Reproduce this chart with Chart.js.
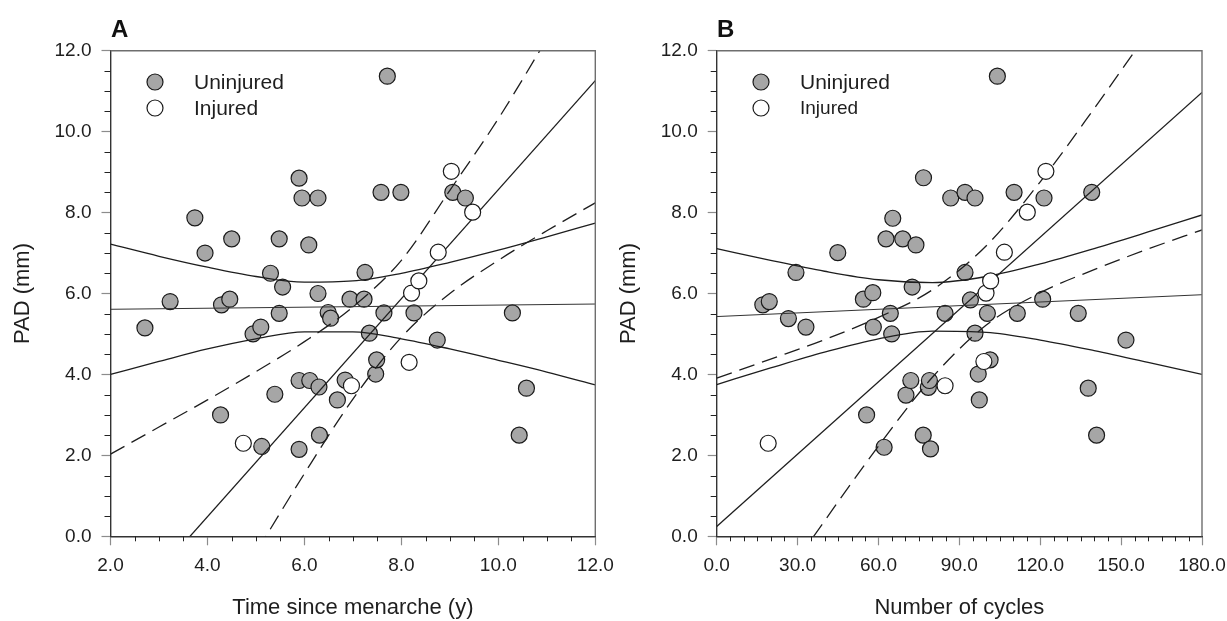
<!DOCTYPE html>
<html>
<head>
<meta charset="utf-8">
<script src="https://cdn.jsdelivr.net/npm/chart.js@4.4.1/dist/chart.umd.min.js"></script>
<style>
  html, body { margin: 0; padding: 0; background: #fff; }
  body { width: 1227px; height: 621px; position: relative; overflow: hidden; }
  canvas { position: absolute; top: 0; }
  #chartA { left: 0; }
  #chartB { left: 606px; }
</style>
</head>
<body>
<canvas id="chartA" width="621" height="621"></canvas>
<canvas id="chartB" width="621" height="621"></canvas>
<script>
// ---- panel A: time since menarche (y) vs PAD (mm)
const aUninjuredTime = [2.71, 3.23, 3.74, 3.95, 4.27, 4.29, 4.46, 4.5, 4.94, 5.1, 5.12, 5.3, 5.39, 5.48, 5.48, 5.55,
  5.89, 5.95, 5.89, 5.89, 6.09, 6.11, 6.28, 6.28, 6.3, 6.31, 6.49, 6.54, 6.68, 6.84, 6.94, 7.23, 7.25, 7.34,
  7.47, 7.49, 7.58, 7.64, 7.71, 7.99, 8.26, 8.74, 9.06, 9.32, 10.29, 10.43, 10.58];
const aUninjuredPad = [5.15, 5.8, 7.87, 7.0, 3.0, 5.72, 5.86, 7.35, 5.0, 5.17, 2.22, 6.5, 3.51, 5.51, 7.35, 6.16,
  8.85, 8.36, 2.15, 3.85, 7.2, 3.85, 8.36, 6.0, 3.69, 2.5, 5.53, 5.39, 3.37, 3.86, 5.86, 5.86, 6.52, 5.02,
  4.01, 4.36, 8.5, 5.52, 11.37, 8.5, 5.52, 4.85, 8.5, 8.36, 5.52, 2.5, 3.66];
const aInjuredTime = [4.74, 6.97, 8.16, 8.21, 8.36, 8.76, 9.03, 9.47];
const aInjuredPad = [2.3, 3.72, 4.3, 6.01, 6.31, 7.02, 9.02, 8.01];

const aFitX = [2, 12];
const aUninjuredFit = [5.61, 5.74];
const aInjuredFit = [-2.21, 11.26];
const aBandX = [2, 3, 4, 5, 6, 7, 8, 9, 10, 11, 12];
const aUninjuredUpper = [7.22, 6.92, 6.65, 6.42, 6.28, 6.31, 6.50, 6.77, 7.07, 7.40, 7.74];
const aUninjuredLower = [4.00, 4.32, 4.63, 4.88, 5.05, 5.05, 4.88, 4.63, 4.35, 4.06, 3.74];
const aInjuredUpper = [2.03, 2.70, 3.37, 4.07, 4.81, 5.67, 6.82, 8.55, 10.32, 12.29, 14.28];
const aInjuredLower = [-6.45, -4.42, -2.41, -0.41, 1.55, 3.39, 4.92, 6.00, 6.82, 7.55, 8.24];

// ---- panel B: number of cycles vs PAD (mm)
const bUninjuredCycles = [17.1, 19.5, 26.6, 29.4, 33.1, 44.9, 54.4, 55.6, 57.9, 58.1, 62.1, 62.8, 64.4, 64.9, 65.3,
  69.0, 70.2, 72.0, 72.5, 73.9, 76.6, 76.7, 78.5, 78.9, 79.3, 84.7, 86.8, 92.1, 92.1, 94.1, 95.8, 95.8, 97.0,
  97.4, 100.4, 101.4, 104.1, 110.3, 111.5, 120.9, 121.4, 134.1, 137.8, 139.1, 140.9, 151.8];
const bUninjuredPad = [5.72, 5.8, 5.38, 6.52, 5.17, 7.01, 5.86, 3.0, 6.02, 5.17, 2.2, 7.35, 5.51, 5.0, 7.86,
  7.35, 3.49, 3.85, 6.16, 7.2, 2.5, 8.86, 3.68, 3.85, 2.16, 5.51, 8.36, 8.5, 6.52, 5.84, 8.36, 5.02, 4.01,
  3.37, 5.51, 4.36, 11.37, 8.5, 5.51, 5.86, 8.36, 5.51, 3.66, 8.5, 2.5, 4.85];
const bInjuredCycles = [19.1, 84.7, 99.1, 99.9, 101.6, 106.7, 115.2, 122.1];
const bInjuredPad = [2.3, 3.72, 4.32, 6.01, 6.31, 7.02, 8.01, 9.02];

const bFitX = [0, 180];
const bUninjuredFit = [5.43, 5.97];
const bInjuredFit = [0.24, 10.97];
const bBandX = [0, 20, 40, 60, 80, 100, 120, 140, 160, 180];
const bUninjuredUpper = [7.11, 6.82, 6.55, 6.34, 6.27, 6.42, 6.73, 7.11, 7.52, 7.94];
const bUninjuredLower = [3.75, 4.16, 4.55, 4.88, 5.07, 5.04, 4.85, 4.59, 4.30, 4.00];
const bInjuredUpper = [3.91, 4.38, 4.86, 5.41, 6.09, 7.18, 8.76, 10.57, 12.46, 14.37];
const bInjuredLower = [-3.43, -1.52, 0.38, 2.23, 3.93, 5.22, 6.02, 6.59, 7.10, 7.57];

const FONT = "Arial, 'Liberation Sans', Helvetica, sans-serif";
const INK = '#1e1e1e';
const GREY = '#a6a6a6';

function pts(xs, ys) {
    return xs.map((x, i) => ({ x: x, y: ys[i] }));
}

function isMajor(v, major) {
    return Math.abs(v / major - Math.round(v / major)) < 1e-6;
}

function curve(label, xs, ys, extra) {
    return Object.assign({
        type: 'line',
        label: label,
        data: pts(xs, ys),
        borderColor: INK,
        borderWidth: 1.3,
        pointRadius: 0,
        pointHoverRadius: 0,
        fill: false,
        cubicInterpolationMode: 'monotone',
        order: 2
    }, extra);
}

function dots(label, xs, ys, fill, order) {
    return {
        type: 'scatter',
        label: label,
        data: pts(xs, ys),
        backgroundColor: fill,
        borderColor: '#1a1a1a',
        borderWidth: 1.2,
        pointRadius: 8,
        pointHoverRadius: 8,
        order: order
    };
}

// minor ticks, top/right frame, panel letter and legend
const decor = {
    id: 'decor',
    afterDraw(chart, args, o) {
        const { ctx, chartArea: a, scales } = chart;
        ctx.save();
        ctx.strokeStyle = '#222';
        ctx.lineWidth = 1;
        ctx.beginPath();
        scales.x.ticks.forEach(t => {
            if (isMajor(t.value, o.xMajor)) return;
            const px = Math.round(scales.x.getPixelForValue(t.value)) + 0.5;
            ctx.moveTo(px, a.bottom);
            ctx.lineTo(px, a.bottom + 5);
        });
        scales.y.ticks.forEach(t => {
            if (isMajor(t.value, 2)) return;
            const py = Math.round(scales.y.getPixelForValue(t.value)) + 0.5;
            ctx.moveTo(a.left, py);
            ctx.lineTo(a.left - 6, py);
        });
        ctx.stroke();

        ctx.strokeStyle = '#6e6e6e';
        ctx.lineWidth = 1.4;
        ctx.beginPath();
        ctx.moveTo(a.left, a.top);
        ctx.lineTo(a.right, a.top);
        ctx.lineTo(a.right, a.bottom);
        ctx.stroke();

        ctx.fillStyle = '#111';
        ctx.font = 'bold 24px ' + FONT;
        ctx.textBaseline = 'alphabetic';
        ctx.fillText(o.letter, 111, 37);

        const rows = [chart.data.datasets[0], chart.data.datasets[1]];
        rows.forEach((ds, i) => {
            const y = 82 + i * 26;
            ctx.beginPath();
            ctx.arc(155, y, 8, 0, Math.PI * 2);
            ctx.fillStyle = ds.backgroundColor;
            ctx.fill();
            ctx.lineWidth = 1.2;
            ctx.strokeStyle = '#1a1a1a';
            ctx.stroke();
            ctx.fillStyle = INK;
            ctx.font = o.legendSizes[i] + 'px ' + FONT;
            ctx.textBaseline = 'middle';
            ctx.fillText(ds.label, 194, y + 1);
        });
        ctx.restore();
    }
};

function makePanel(id, cfg) {
    return new Chart(document.getElementById(id), {
        type: 'scatter',
        data: {
            datasets: [
                dots('Uninjured', cfg.ux, cfg.uy, GREY, 3),
                dots('Injured', cfg.ix, cfg.iy, '#ffffff', 1),
                curve('Uninjured fit', cfg.fitX, cfg.uFit, { borderWidth: 1, borderColor: '#333' }),
                curve('Uninjured upper', cfg.bandX, cfg.uUp),
                curve('Uninjured lower', cfg.bandX, cfg.uLo),
                curve('Injured fit', cfg.fitX, cfg.iFit),
                curve('Injured upper', cfg.bandX, cfg.iUp, { borderDash: [16, 8] }),
                curve('Injured lower', cfg.bandX, cfg.iLo, { borderDash: [16, 8] })
            ]
        },
        options: {
            responsive: false,
            animation: false,
            events: [],
            layout: { padding: { left: 0, top: 50.7, right: cfg.padRight, bottom: 0 } },
            plugins: {
                legend: { display: false },
                tooltip: { enabled: false },
                decor: { letter: cfg.letter, xMajor: cfg.xMajor, legendSizes: cfg.legendSizes }
            },
            scales: {
                x: {
                    type: 'linear',
                    min: cfg.xMin,
                    max: cfg.xMax,
                    afterFit(s) { s.height = 84.7; s.paddingLeft = 0; s.paddingRight = 0; },
                    ticks: {
                        stepSize: cfg.xStep,
                        autoSkip: false,
                        maxRotation: 0,
                        padding: 9,
                        color: INK,
                        font: { family: FONT, size: 19 },
                        callback: v => isMajor(v, cfg.xMajor) ? v.toFixed(1) : ''
                    },
                    grid: {
                        drawOnChartArea: false,
                        tickLength: 9,
                        tickWidth: 1.2,
                        tickColor: c => isMajor(c.tick.value, cfg.xMajor) ? '#8c8c8c' : 'rgba(0,0,0,0)'
                    },
                    border: { color: '#333', width: 1.4 },
                    title: { display: true, text: cfg.xTitle, color: INK, font: { family: FONT, size: 22 }, padding: 0 }
                },
                y: {
                    type: 'linear',
                    min: 0,
                    max: 12,
                    afterFit(s) { s.width = cfg.yWidth; s.paddingTop = 0; s.paddingBottom = 0; },
                    ticks: {
                        stepSize: 0.5,
                        autoSkip: false,
                        padding: 10,
                        color: INK,
                        font: { family: FONT, size: 19 },
                        callback: v => isMajor(v, 2) ? v.toFixed(1) : ''
                    },
                    grid: {
                        drawOnChartArea: false,
                        tickLength: 9,
                        tickWidth: 1.2,
                        tickColor: c => isMajor(c.tick.value, 2) ? '#8c8c8c' : 'rgba(0,0,0,0)'
                    },
                    border: { color: '#333', width: 1.4 },
                    title: { display: true, text: 'PAD (mm)', color: INK, font: { family: FONT, size: 22 }, padding: { top: 10 } }
                }
            }
        },
        plugins: [decor]
    });
}

const chartA = makePanel('chartA', {
    letter: 'A', xTitle: 'Time since menarche (y)',
    xMin: 2, xMax: 12, xStep: 0.5, xMajor: 2,
    yWidth: 110.5, padRight: 25.7, legendSizes: [21, 21],
    ux: aUninjuredTime, uy: aUninjuredPad, ix: aInjuredTime, iy: aInjuredPad,
    fitX: aFitX, uFit: aUninjuredFit, iFit: aInjuredFit,
    bandX: aBandX, uUp: aUninjuredUpper, uLo: aUninjuredLower, iUp: aInjuredUpper, iLo: aInjuredLower
});

const chartB = makePanel('chartB', {
    letter: 'B', xTitle: 'Number of cycles',
    xMin: 0, xMax: 180, xStep: 5, xMajor: 30,
    yWidth: 110.7, padRight: 25, legendSizes: [21, 19],
    ux: bUninjuredCycles, uy: bUninjuredPad, ix: bInjuredCycles, iy: bInjuredPad,
    fitX: bFitX, uFit: bUninjuredFit, iFit: bInjuredFit,
    bandX: bBandX, uUp: bUninjuredUpper, uLo: bUninjuredLower, iUp: bInjuredUpper, iLo: bInjuredLower
});
</script>
</body>
</html>
